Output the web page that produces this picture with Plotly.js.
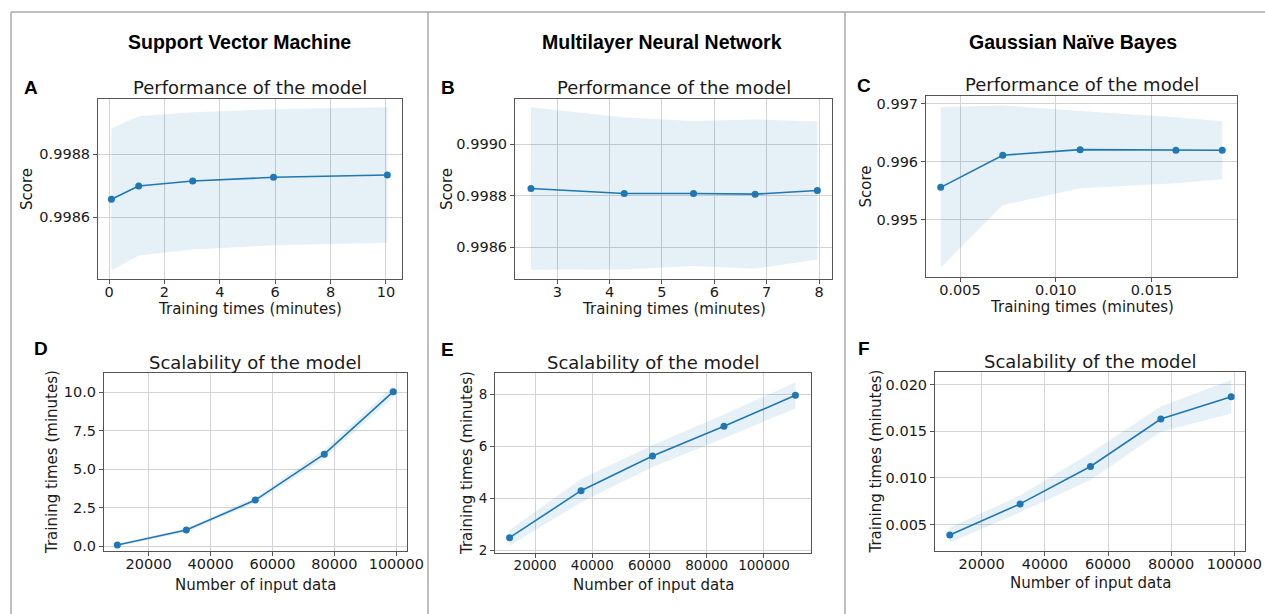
<!DOCTYPE html>
<html><head><meta charset="utf-8">
<script src="https://cdn.plot.ly/plotly-3.0.1.min.js"></script>
<style>html,body{margin:0;padding:0;background:#fff}#chart{width:1265px;height:614px}</style>
</head><body><div id="chart"></div>
<script>
// ---- Data ----
const headers = ["Support Vector Machine", "Multilayer Neural Network", "Gaussian Naïve Bayes"];
const panelLetters = ["A", "B", "C", "D", "E", "F"];
const perfTitle = "Performance of the model";
const scalTitle = "Scalability of the model";

// Performance (score vs training time)
const svmFitTimes = [0.084, 1.07, 3.02, 5.94, 10.05];
const svmScoreMean = [0.998657, 0.9986995, 0.9987153, 0.998727, 0.9987344];
const svmScoreStd = [0.000225, 0.000221, 0.000218, 0.000216, 0.000215];

const mlpFitTimes = [2.497, 4.279, 5.602, 6.779, 7.968];
const mlpScoreMean = [0.9988272, 0.9988078, 0.9988078, 0.9988052, 0.9988194];
const mlpScoreStd = [0.000316, 0.000295, 0.000282, 0.00029, 0.000268];

const gnbFitTimes = [0.00399, 0.00723, 0.01127, 0.01627, 0.01869];
const gnbScoreMean = [0.995556, 0.99611, 0.996207, 0.996196, 0.996196];
const gnbScoreStd = [0.001383, 0.000859, 0.000668, 0.00057, 0.0005];

// Scalability (training time vs number of input data)
const svmTrainSizes = [9900, 32175, 54450, 76725, 99000];
const svmTimeMean = [0.065, 1.039, 2.987, 5.974, 10.043];
const svmTimeStd = [0.08, 0.12, 0.18, 0.28, 0.38];

const mlpTrainSizes = [11100, 36075, 61050, 86025, 111000];
const mlpTimeMean = [2.475, 4.291, 5.63, 6.777, 7.974];
const mlpTimeStd = [0.3, 0.45, 0.42, 0.46, 0.5];

const gnbTrainSizes = [9900, 32175, 54450, 76725, 99000];
const gnbTimeMean = [0.003894, 0.007223, 0.011231, 0.016314, 0.018711];
const gnbTimeStd = [0.0008, 0.0009, 0.00144, 0.00135, 0.0018];

// Tick labels
const aXTicks = [0, 2, 4, 6, 8, 10];
const aYTicks = [0.9986, 0.9988];
const bXTicks = [3, 4, 5, 6, 7, 8];
const bYTicks = [0.9986, 0.9988, 0.9990];
const cXTicks = [0.005, 0.010, 0.015];
const cYTicks = [0.995, 0.996, 0.997];
const sizeTicks = [20000, 40000, 60000, 80000, 100000];
const dYTicks = [0.0, 2.5, 5.0, 7.5, 10.0];
const eYTicks = [2, 4, 6, 8];
const fYTicks = [0.005, 0.010, 0.015, 0.020];

// ---- Layout helpers ----
const W = 1265, H = 614;
const BLUE = "#1f77b4";
const FILL = "rgba(31,119,180,0.11)";
const TXT = "#1a1a1a";
const FONT = "DejaVu Sans, sans-serif";
const px = x => x / W;
const py = y => 1 - y / H;

const panels = [
  {x: svmFitTimes, m: svmScoreMean, s: svmScoreStd, box: [98, 402, 99, 279], xr: [-0.40, 10.58], yr: [0.998404, 0.9989756],
   xt: aXTicks, yt: aYTicks, xf: "d", yf: ".4f", title: perfTitle, ty: 87, xlab: "Training times (minutes)", xly: 309,
   ylab: "Score", ylx: 27, letter: [31, 87], tf: 14.5},
  {x: mlpFitTimes, m: mlpScoreMean, s: mlpScoreStd, box: [515, 832, 99, 279], xr: [2.192, 8.248], yr: [0.9984757, 0.9991748],
   xt: bXTicks, yt: bYTicks, xf: "d", yf: ".4f", title: perfTitle, ty: 87, xlab: "Training times (minutes)", xly: 309,
   ylab: "Score", ylx: 447, letter: [448, 87], tf: 14.5},
  {x: gnbFitTimes, m: gnbScoreMean, s: gnbScoreStd, box: [926, 1237, 96, 277], xr: [0.003223, 0.01946], yr: [0.9940086, 0.9971326],
   xt: cXTicks, yt: cYTicks, xf: ".3f", yf: ".3f", title: perfTitle, ty: 84, xlab: "Training times (minutes)", xly: 307,
   ylab: "Score", ylx: 865, letter: [864, 85], tf: 14.5},
  {x: svmTrainSizes, m: svmTimeMean, s: svmTimeStd, box: [104, 407, 373, 551], xr: [5591, 103441], yr: [-0.325, 11.255],
   xt: sizeTicks, yt: dYTicks, xf: "d", yf: ".1f", title: scalTitle, ty: 362, xlab: "Number of input data", xly: 585,
   ylab: "Training times (minutes)", ylx: 52, letter: [41, 348], tf: 14.5},
  {x: mlpTrainSizes, m: mlpTimeMean, s: mlpTimeStd, box: [495, 811, 373, 553], xr: [6006, 116443], yr: [1.884, 8.837],
   xt: sizeTicks, yt: eYTicks, xf: "d", yf: "d", title: scalTitle, ty: 362, xlab: "Number of input data", xly: 585,
   ylab: "Training times (minutes)", ylx: 467, letter: [447, 349], tf: 13.5},
  {x: gnbTrainSizes, m: gnbTimeMean, s: gnbTimeStd, box: [935, 1245, 372, 551], xr: [5224, 103377], yr: [0.002172, 0.02136],
   xt: sizeTicks, yt: fYTicks, xf: "d", yf: ".3f", title: scalTitle, ty: 361, xlab: "Number of input data", xly: 583,
   ylab: "Training times (minutes)", ylx: 875, letter: [864, 348], tf: 14.5}
];

const traces = [];
const layout = {
  width: W, height: H, margin: {l: 0, r: 0, t: 0, b: 0},
  paper_bgcolor: "#fff", plot_bgcolor: "#fff", showlegend: false,
  font: {family: FONT, color: TXT, size: 14.5},
  annotations: [], shapes: []
};

panels.forEach((p, i) => {
  const n = i + 1;
  const xa = "x" + (n === 1 ? "" : n), ya = "y" + (n === 1 ? "" : n);
  const upper = p.m.map((v, k) => v + p.s[k]);
  const lower = p.m.map((v, k) => v - p.s[k]);
  traces.push({x: p.x, y: upper, xaxis: xa, yaxis: ya, mode: "lines", line: {width: 0, color: FILL}, hoverinfo: "skip"});
  traces.push({x: p.x, y: lower, xaxis: xa, yaxis: ya, mode: "lines", line: {width: 0, color: FILL}, fill: "tonexty", fillcolor: FILL, hoverinfo: "skip"});
  traces.push({x: p.x, y: p.m, xaxis: xa, yaxis: ya, mode: "lines+markers", line: {color: BLUE, width: 1.6}, marker: {color: BLUE, size: 7}});

  const [l, r, t, b] = p.box;
  const axCommon = {showline: true, mirror: true, linecolor: "#555", linewidth: 1, showgrid: true, gridcolor: "#d3d3d3", gridwidth: 1,
    zeroline: false, ticks: "outside", ticklen: 4, tickcolor: "#555", tickfont: {family: FONT, size: p.tf, color: TXT}};
  layout["xaxis" + (n === 1 ? "" : n)] = Object.assign({}, axCommon, {domain: [px(l), px(r)], range: p.xr, anchor: ya,
    tickmode: "array", tickvals: p.xt, tickformat: p.xf, ticklabelstandoff: -4});
  layout["yaxis" + (n === 1 ? "" : n)] = Object.assign({}, axCommon, {domain: [py(b), py(t)], range: p.yr, anchor: xa,
    tickmode: "array", tickvals: p.yt, tickformat: p.yf});

  layout.annotations.push({xref: "paper", yref: "paper", x: px((l + r) / 2), y: py(p.ty), text: p.title, showarrow: false,
    xanchor: "center", yanchor: "middle", font: {family: FONT, size: 18, color: TXT}});
  layout.annotations.push({xref: "paper", yref: "paper", x: px((l + r) / 2), y: py(p.xly), text: p.xlab, showarrow: false,
    xanchor: "center", yanchor: "middle", font: {family: FONT, size: 15, color: TXT}});
  layout.annotations.push({xref: "paper", yref: "paper", x: px(p.ylx), y: py((t + b) / 2), text: p.ylab, showarrow: false, textangle: -90,
    xanchor: "center", yanchor: "middle", font: {family: FONT, size: 15, color: TXT}});
  layout.annotations.push({xref: "paper", yref: "paper", x: px(p.letter[0]), y: py(p.letter[1]), text: "<b>" + panelLetters[i] + "</b>", showarrow: false,
    xanchor: "center", yanchor: "middle", font: {family: "Liberation Sans, Arial, sans-serif", size: 19, color: "#000"}});
});

const headerX = [240, 662, 1073];
headers.forEach((h, i) => {
  layout.annotations.push({xref: "paper", yref: "paper", x: px(headerX[i]), y: py(42), text: "<b>" + h + "</b>", showarrow: false,
    xanchor: "center", yanchor: "middle", font: {family: "Liberation Sans, Arial, sans-serif", size: 19.5, color: "#000"}});
});

// frame lines
const LC = "#a8a8a8";
layout.shapes.push({type: "line", xref: "paper", yref: "paper", x0: px(11), x1: 1, y0: py(12), y1: py(12), line: {color: LC, width: 1.5}});
[11, 428, 845].forEach(x => {
  layout.shapes.push({type: "line", xref: "paper", yref: "paper", x0: px(x), x1: px(x), y0: py(12), y1: 0, line: {color: LC, width: 1.5}});
});

Plotly.newPlot("chart", traces, layout, {staticPlot: true, displayModeBar: false});
</script>
</body></html>
